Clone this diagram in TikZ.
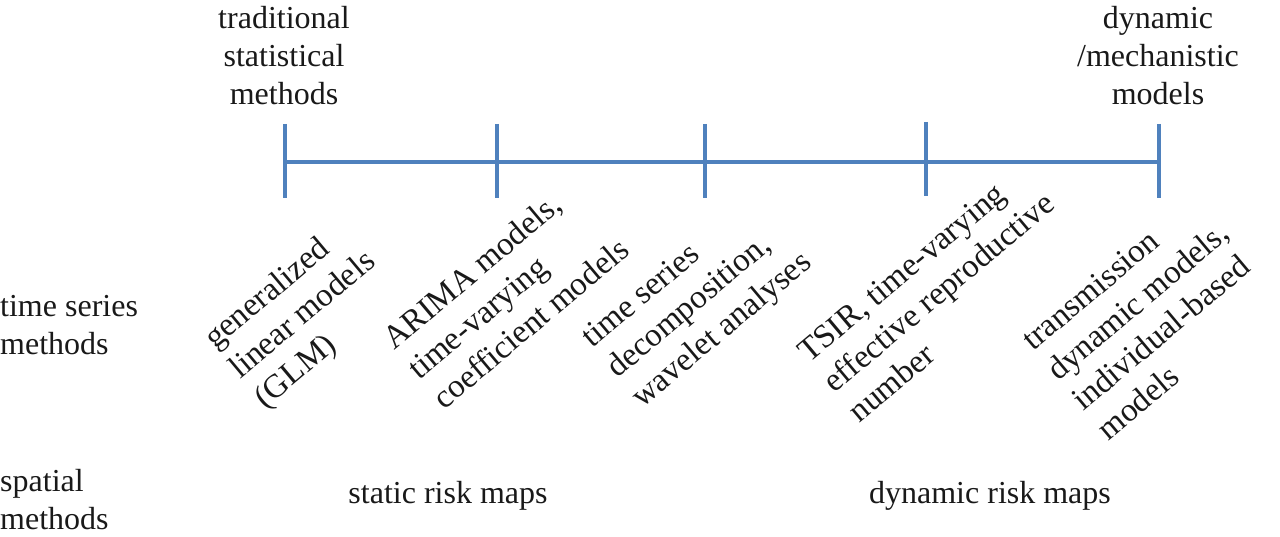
\documentclass[tikz,border=0pt]{standalone}
\usepackage{fontspec}
\setmainfont{Liberation Serif}
\usepackage{xcolor}
\definecolor{axisblue}{HTML}{4F81BD}

\begin{document}
\begin{tikzpicture}[x=1pt,y=-1pt,
    every node/.style={inner sep=0pt,text=black!90},
    axis/.style={draw=axisblue,line width=3.5pt},
    toplabel/.style={align=center,font=\fontsize{32}{38}\selectfont},
    sidelabel/.style={align=left,anchor=west,font=\fontsize{32}{38}\selectfont},
    maplabel/.style={anchor=base,font=\fontsize{32}{38}\selectfont},
    slanted/.style={align=left,anchor=north west,rotate=40,font=\fontsize{33}{39}\selectfont}]
    \useasboundingbox (0,0) rectangle (1280,537);
    \coordinate (T1) at ( 285, 162);
    \coordinate (T2) at ( 497, 162);
    \coordinate (T3) at ( 705, 162);
    \coordinate (T4) at ( 926, 160);
    \coordinate (T5) at (1159, 162);
    \draw[axis] (T1) -- (T5);
    \foreach \t in {T1,T2,T3,T4,T5}
      \draw[axis] ([yshift=38pt]\t) -- ([yshift=-36pt]\t);
    \node[toplabel] (trad) at ( 284, 56) {traditional\\statistical\\methods};
    \node[toplabel] (dyn)  at (1158, 56) {dynamic\\/mechanistic\\models};
    \node[sidelabel] (ts) at (0, 325) {time series\\methods};
    \node[sidelabel] (sp) at (0, 500) {spatial\\methods};
    \node[maplabel] (static)  at (448, 503) {static risk maps};
    \node[maplabel] (dynamic) at (990, 503) {dynamic risk maps};
    \node[slanted] (L1) at ( 200, 332) {generalized\\linear models\\(GLM)};
    \node[slanted] (L2) at ( 379, 333) {ARIMA models,\\time-varying\\coefficient models};
    \node[slanted] (L3) at ( 578, 332) {time series\\decomposition,\\wavelet analyses};
    \node[slanted] (L4) at ( 795, 347) {TSIR, time-varying\\effective reproductive\\number};
    \node[slanted] (L5) at (1019, 335) {transmission\\dynamic models,\\individual-based\\models};
  \end{tikzpicture}
\end{document}
